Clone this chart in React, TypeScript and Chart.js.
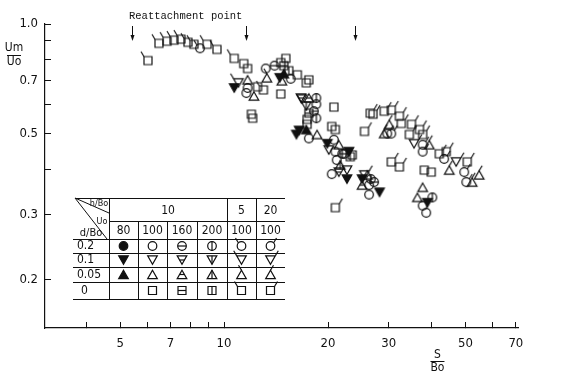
import React, { useEffect, useRef } from 'react';
import { Chart, registerables } from 'chart.js';
Chart.register(...registerables);

type Pt = [number, number];
type Shape = 'circle' | 'down' | 'up' | 'square';
type Variant = 'filled' | 'open' | 'hbar' | 'vbar' | 'flagL' | 'flagR';

// ---- axes ----
const xTicks = [4, 5, 6, 7, 8, 9, 10, 20, 30, 40, 50, 60, 70];
const xLabels = [5, 7, 10, 20, 30, 50, 70];
const yTicks = [0.2, 0.3, 0.4, 0.5, 0.6, 0.7, 0.8, 0.9, 1.0];
const yLabels = [0.2, 0.3, 0.5, 0.7, 1.0];
const reattachPoints = [5.4, 11.6, 24];

// ---- legend table ----
const hBoHeaders = ['10', '5', '20'];
const uoHeaders = ['80', '100', '160', '200', '100', '100'];
const dBoRows = ['0.2', '0.1', '0.05', '0'];

// ---- data: h/Bo = 10 ----
const h10U80d02: Pt[] = [];
const h10U80d01: Pt[] = [[10.7, 0.668], [14.5, 0.712], [16.2, 0.498], [16.5, 0.511], [19.9, 0.470], [23.0, 0.447], [22.7, 0.376], [25.1, 0.376], [28.2, 0.346], [38.8, 0.324]];
const h10U80d005: Pt[] = [[14.9, 0.731], [17.3, 0.514]];
const h10U100d02: Pt[] = [[11.6, 0.647], [11.7, 0.668], [13.2, 0.755], [15.6, 0.708], [18.5, 0.603], [17.6, 0.486], [20.8, 0.482], [21.0, 0.447], [21.2, 0.424], [20.5, 0.388], [26.3, 0.362], [26.3, 0.341], [37.6, 0.318], [38.5, 0.304]];
const h10U100d01: Pt[] = [[20.1, 0.452], [22.7, 0.398], [16.8, 0.623]];
const h10U100d005: Pt[] = [[11.7, 0.703], [12.2, 0.635], [14.7, 0.699], [18.6, 0.498], [21.5, 0.467], [26.0, 0.386], [37.6, 0.357], [36.3, 0.335]];
const h10U100d0: Pt[] = [[11.4, 0.779], [11.7, 0.755], [12.5, 0.673], [12.0, 0.566], [12.1, 0.552], [14.6, 0.784], [15.1, 0.805], [16.3, 0.726], [17.3, 0.690], [17.6, 0.703], [14.6, 0.643], [17.4, 0.548], [17.4, 0.531], [20.8, 0.592], [20.5, 0.524], [21.0, 0.514], [23.5, 0.438], [38.0, 0.398], [39.8, 0.393]];
const h10U160d02: Pt[] = [[14.0, 0.769], [18.2, 0.577], [22.3, 0.441], [27.2, 0.369]];
const h10U160d01: Pt[] = [[16.7, 0.627], [21.5, 0.393]];
const h10U160d005: Pt[] = [[17.6, 0.627], [25.1, 0.362]];
const h10U160d0: Pt[] = [[14.9, 0.769], [17.6, 0.570]];
const h10U200d02: Pt[] = [[18.5, 0.627], [22.0, 0.441], [18.5, 0.552], [40.1, 0.335], [26.6, 0.376]];
const h10U200d01: Pt[] = [[17.3, 0.596]];
const h10U200d005: Pt[] = [[21.7, 0.411]];
const h10U200d0: Pt[] = [[15.4, 0.745], [23.2, 0.433]];
// ---- data: h/Bo = 5, Uo = 100 ----
const h5d02: Pt[] = [[8.52, 0.858]];
const h5d01: Pt[] = [[11.0, 0.690]];
const h5d005: Pt[] = [[13.3, 0.712]];
const h5d0: Pt[] = [[6.02, 0.794], [6.48, 0.885], [6.84, 0.897], [7.16, 0.903], [7.50, 0.909], [7.86, 0.891], [8.18, 0.880], [8.93, 0.880], [9.54, 0.852], [10.7, 0.805], [13.0, 0.660]];
// ---- data: h/Bo = 20, Uo = 100 ----
const h20d02: Pt[] = [[29.7, 0.501], [30.5, 0.501], [37.6, 0.467], [37.6, 0.447], [43.4, 0.427], [49.6, 0.393], [50.3, 0.369]];
const h20d01: Pt[] = [[35.5, 0.470], [47.0, 0.419], [25.5, 0.386]];
const h20d005: Pt[] = [[30.1, 0.531], [29.1, 0.501], [39.3, 0.467], [44.9, 0.398], [52.3, 0.369], [54.8, 0.386]];
const h20d0: Pt[] = [[26.5, 0.570], [29.1, 0.577], [30.5, 0.581], [32.2, 0.559], [27.0, 0.566], [25.5, 0.508], [32.6, 0.534], [34.9, 0.531], [34.4, 0.498], [36.8, 0.514], [37.6, 0.498], [42.0, 0.441], [44.0, 0.447], [50.6, 0.419], [30.5, 0.419], [32.2, 0.406], [21.0, 0.314]];

const seriesList: { label: string; shape: Shape; variant: Variant; data: Pt[] }[] = [
  { label: 'h10 U80 d0.2', shape: 'circle', variant: 'filled', data: h10U80d02 },
  { label: 'h10 U80 d0.1', shape: 'down', variant: 'filled', data: h10U80d01 },
  { label: 'h10 U80 d0.05', shape: 'up', variant: 'filled', data: h10U80d005 },
  { label: 'h10 U100 d0.2', shape: 'circle', variant: 'open', data: h10U100d02 },
  { label: 'h10 U100 d0.1', shape: 'down', variant: 'open', data: h10U100d01 },
  { label: 'h10 U100 d0.05', shape: 'up', variant: 'open', data: h10U100d005 },
  { label: 'h10 U100 d0', shape: 'square', variant: 'open', data: h10U100d0 },
  { label: 'h10 U160 d0.2', shape: 'circle', variant: 'hbar', data: h10U160d02 },
  { label: 'h10 U160 d0.1', shape: 'down', variant: 'hbar', data: h10U160d01 },
  { label: 'h10 U160 d0.05', shape: 'up', variant: 'hbar', data: h10U160d005 },
  { label: 'h10 U160 d0', shape: 'square', variant: 'hbar', data: h10U160d0 },
  { label: 'h10 U200 d0.2', shape: 'circle', variant: 'vbar', data: h10U200d02 },
  { label: 'h10 U200 d0.1', shape: 'down', variant: 'vbar', data: h10U200d01 },
  { label: 'h10 U200 d0.05', shape: 'up', variant: 'vbar', data: h10U200d005 },
  { label: 'h10 U200 d0', shape: 'square', variant: 'vbar', data: h10U200d0 },
  { label: 'h5 U100 d0.2', shape: 'circle', variant: 'flagL', data: h5d02 },
  { label: 'h5 U100 d0.1', shape: 'down', variant: 'flagL', data: h5d01 },
  { label: 'h5 U100 d0.05', shape: 'up', variant: 'flagL', data: h5d005 },
  { label: 'h5 U100 d0', shape: 'square', variant: 'flagL', data: h5d0 },
  { label: 'h20 U100 d0.2', shape: 'circle', variant: 'flagR', data: h20d02 },
  { label: 'h20 U100 d0.1', shape: 'down', variant: 'flagR', data: h20d01 },
  { label: 'h20 U100 d0.05', shape: 'up', variant: 'flagR', data: h20d005 },
  { label: 'h20 U100 d0', shape: 'square', variant: 'flagR', data: h20d0 },
];

const rowShapes: Shape[] = ['circle', 'down', 'up', 'square'];
const colVariants: Variant[] = ['filled', 'open', 'hbar', 'vbar', 'flagL', 'flagR'];

function drawSymbol(ctx: CanvasRenderingContext2D, cx: number, cy: number, shape: Shape, variant: Variant) {
  ctx.save();
  ctx.lineWidth = 1.2;
  ctx.strokeStyle = '#111';
  ctx.fillStyle = '#111';
  ctx.beginPath();
  let tl: [number, number] = [cx, cy];
  let tr: [number, number] = [cx, cy];
  let half = 4;
  let top = cy - 4, bot = cy + 4;
  if (shape === 'circle') {
    const r = 4.3;
    ctx.arc(cx, cy, r, 0, Math.PI * 2);
    tl = [cx - r * 0.7, cy - r * 0.7];
    tr = [cx + r * 0.7, cy - r * 0.7];
    half = r; top = cy - r - 0.8; bot = cy + r + 0.8;
  } else if (shape === 'square') {
    const s = 4;
    ctx.rect(cx - s, cy - s, 2 * s, 2 * s);
    tl = [cx - s, cy - s];
    tr = [cx + s, cy - s];
    half = s; top = cy - s; bot = cy + s;
  } else if (shape === 'up') {
    const w = 4.8, h = 4.2;
    ctx.moveTo(cx, cy - h);
    ctx.lineTo(cx + w, cy + h);
    ctx.lineTo(cx - w, cy + h);
    ctx.closePath();
    tl = [cx, cy - h];
    tr = [cx, cy - h];
    half = w / 2; top = cy - h; bot = cy + h;
  } else {
    const w = 4.8, h = 4.2;
    ctx.moveTo(cx - w, cy - h);
    ctx.lineTo(cx + w, cy - h);
    ctx.lineTo(cx, cy + h);
    ctx.closePath();
    tl = [cx - w, cy - h];
    tr = [cx + w, cy - h];
    half = w / 2; top = cy - h; bot = cy + h;
  }
  if (variant === 'filled') ctx.fill();
  ctx.stroke();
  ctx.beginPath();
  if (variant === 'hbar') {
    ctx.moveTo(cx - half, cy);
    ctx.lineTo(cx + half, cy);
  } else if (variant === 'vbar') {
    ctx.moveTo(cx, top);
    ctx.lineTo(cx, bot);
  } else if (variant === 'flagL') {
    ctx.moveTo(tl[0], tl[1]);
    ctx.lineTo(tl[0] - 3, tl[1] - 5);
  } else if (variant === 'flagR') {
    ctx.moveTo(tr[0], tr[1]);
    ctx.lineTo(tr[0] + 3, tr[1] - 5);
  }
  ctx.stroke();
  ctx.restore();
}

function makeSymbol(shape: Shape, variant: Variant): HTMLCanvasElement {
  const c = document.createElement('canvas');
  c.width = 24;
  c.height = 24;
  const ctx = c.getContext('2d')!;
  drawSymbol(ctx, 12, 12, shape, variant);
  return c;
}

const narrow = "'Liberation Sans Narrow', 'DejaVu Sans Condensed', 'Roboto Condensed', sans-serif";

const decorPlugin = {
  id: 'decor',
  afterDraw(chart: any) {
    const ctx: CanvasRenderingContext2D = chart.ctx;
    const xs = chart.scales.x;
    ctx.save();
    ctx.fillStyle = '#111';
    ctx.strokeStyle = '#111';
    // Reattachment label + arrows
    ctx.font = "10.5px 'Liberation Mono', 'DejaVu Sans Mono', monospace";
    ctx.textBaseline = 'middle';
    ctx.textAlign = 'left';
    ctx.fillText('Reattachment point', 129, 16);
    ctx.lineWidth = 1;
    reattachPoints.forEach((v) => {
      const px = Math.round(xs.getPixelForValue(v)) + 0.5;
      ctx.beginPath();
      ctx.moveTo(px, 26);
      ctx.lineTo(px, 37);
      ctx.stroke();
      ctx.beginPath();
      ctx.moveTo(px - 2, 35);
      ctx.lineTo(px + 2, 35);
      ctx.lineTo(px, 41);
      ctx.closePath();
      ctx.fill();
    });
    // y title
    ctx.font = `12px ${narrow}`;
    ctx.textAlign = 'center';
    ctx.fillText('Um', 14, 48);
    ctx.fillText('Uo', 14, 62);
    ctx.lineWidth = 1;
    ctx.beginPath();
    ctx.moveTo(7, 55.5);
    ctx.lineTo(21, 55.5);
    ctx.stroke();
    // x title
    const sx = xs.getPixelForValue(41.5);
    ctx.fillText('S', sx, 355);
    ctx.fillText('Bo', sx, 368);
    ctx.beginPath();
    ctx.moveTo(sx - 7, 361.5);
    ctx.lineTo(sx + 7, 361.5);
    ctx.stroke();

    // legend table
    const colX = [109, 138, 167, 197, 227, 256, 285];
    const left = 75;
    const right = 285;
    const rowY = [198, 221, 239, 253, 267, 282, 299];
    ctx.lineWidth = 1;
    const hl = (x1: number, x2: number, y: number) => {
      ctx.beginPath();
      ctx.moveTo(x1, y + 0.5);
      ctx.lineTo(x2, y + 0.5);
      ctx.stroke();
    };
    const vl = (x: number, y1: number, y2: number) => {
      ctx.beginPath();
      ctx.moveTo(x + 0.5, y1);
      ctx.lineTo(x + 0.5, y2);
      ctx.stroke();
    };
    hl(left, right, rowY[0]);
    hl(colX[0], right, rowY[1]);
    for (let i = 2; i < rowY.length; i++) hl(left - 2, right, rowY[i]);
    vl(colX[0], rowY[0], rowY[6]);
    vl(colX[4], rowY[0], rowY[6]);
    vl(colX[5], rowY[0], rowY[6]);
    for (let i = 1; i < 4; i++) vl(colX[i], rowY[1], rowY[6]);
    // diagonals
    ctx.beginPath();
    ctx.moveTo(left, rowY[0]);
    ctx.lineTo(colX[0], 213);
    ctx.moveTo(left, rowY[0]);
    ctx.lineTo(colX[0] - 2, rowY[2]);
    ctx.stroke();
    ctx.font = `9px ${narrow}`;
    ctx.textAlign = 'center';
    ctx.fillText('h/Bo', 99, 204);
    ctx.fillText('Uo', 102, 222);
    ctx.font = `11px ${narrow}`;
    ctx.fillText('d/Bo', 91, 233);
    // headers
    ctx.font = `12px ${narrow}`;
    ctx.textAlign = 'center';
    ctx.fillText(hBoHeaders[0], (colX[0] + colX[4]) / 2, 211);
    ctx.fillText(hBoHeaders[1], (colX[4] + colX[5]) / 2, 211);
    ctx.fillText(hBoHeaders[2], (colX[5] + colX[6]) / 2, 211);
    const centers = [0, 1, 2, 3, 4, 5].map((i) => (colX[i] + colX[i + 1]) / 2);
    uoHeaders.forEach((t, i) => ctx.fillText(t, centers[i], 231));
    const rowC = [246, 260, 274.5, 290.5];
    ctx.textAlign = 'left';
    dBoRows.forEach((t, i) => ctx.fillText(t, t === '0' ? 81 : 77, rowC[i]));
    rowShapes.forEach((sh, r) => {
      colVariants.forEach((vr, c) => {
        if (sh === 'square' && vr === 'filled') return;
        drawSymbol(ctx, centers[c], rowC[r], sh, vr);
      });
    });
    ctx.restore();
  },
};

export default function App() {
  const ref = useRef<HTMLCanvasElement>(null);
  useEffect(() => {
    document.body.style.margin = '0';
    document.body.style.background = '#fff';
    const canvas = ref.current!;
    const datasets = seriesList.map((s) => ({
      label: s.label,
      data: s.data.map(([x, y]) => ({ x, y })),
      pointStyle: makeSymbol(s.shape, s.variant) as any,
      pointRadius: 5,
      showLine: false,
    }));
    const chart = new Chart(canvas, {
      type: 'scatter',
      data: { datasets },
      options: {
        responsive: false,
        animation: false,
        layout: { padding: { top: 24, right: 48, left: 0, bottom: 0 } },
        plugins: { legend: { display: false }, tooltip: { enabled: false } },
        scales: {
          x: {
            type: 'logarithmic',
            min: 3.03,
            max: 71,
            afterBuildTicks: (scale: any) => {
              scale.ticks = xTicks.map((v) => ({ value: v }));
            },
            afterFit: (scale: any) => {
              scale.height = 45;
            },
            border: { display: true, color: '#111', width: 1.2 },
            grid: { display: true, drawOnChartArea: false, drawTicks: true, tickLength: -6, color: '#111', lineWidth: 1 },
            ticks: {
              autoSkip: false,
              maxRotation: 0,
              padding: 14,
              color: '#111',
              font: { family: narrow, size: 13 },
              callback: (v: any) => (xLabels.includes(Number(v)) ? String(v) : ''),
            },
          },
          y: {
            type: 'logarithmic',
            min: 0.147,
            max: 1.0,
            afterBuildTicks: (scale: any) => {
              scale.ticks = yTicks.map((v) => ({ value: v }));
            },
            afterFit: (scale: any) => {
              scale.width = 45;
            },
            border: { display: true, color: '#111', width: 1.2 },
            grid: { display: true, drawOnChartArea: false, drawTicks: true, tickLength: -6, color: '#111', lineWidth: 1 },
            ticks: {
              autoSkip: false,
              padding: 13,
              color: '#111',
              font: { family: narrow, size: 13 },
              callback: (v: any) => (yLabels.includes(Number(v)) ? Number(v).toFixed(1) : ''),
            },
          },
        },
      },
      plugins: [decorPlugin],
    });
    return () => chart.destroy();
  }, []);
  return (
    <div style={{ width: 566, height: 373, background: '#fff' }}>
      <canvas ref={ref} width={566} height={373} />
    </div>
  );
}
